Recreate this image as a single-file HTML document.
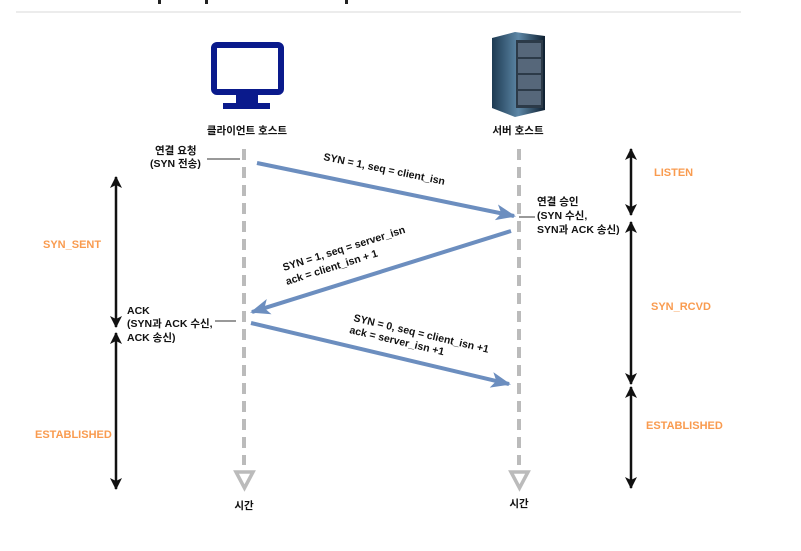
<!DOCTYPE html>
<html><head><meta charset="utf-8"><style>
body{margin:0;background:#fff;width:801px;height:546px;overflow:hidden}
svg text{font-family:"Liberation Sans","Noto Sans CJK KR",sans-serif;font-weight:bold;font-size:10.5px;fill:#111}
svg text.o{fill:#f99b4f;font-size:11px}
</style></head><body>
<svg width="801" height="546" viewBox="0 0 801 546" xmlns="http://www.w3.org/2000/svg">
<defs>
<marker id="ba" markerWidth="12" markerHeight="12" refX="11" refY="6" orient="auto-start-reverse" markerUnits="userSpaceOnUse"><path d="M0,0 L12,6 L0,12 L3,6 z" fill="#111"/></marker>
<marker id="bl" markerWidth="22" markerHeight="16" refX="18" refY="8" orient="auto" markerUnits="userSpaceOnUse"><path d="M0,0 L20,8 L0,16 L5,8 z" fill="#6c8ebf"/></marker>
<linearGradient id="sg" x1="0" x2="1"><stop offset="0" stop-color="#1d3a52"/><stop offset="0.5" stop-color="#5d87a6"/><stop offset="1" stop-color="#0e1f30"/></linearGradient>
</defs>
<g fill="#222"><rect x="158" y="0" width="3" height="4"/><rect x="205" y="0" width="3" height="4"/><rect x="345" y="0" width="3" height="4"/></g>
<line x1="16" y1="12" x2="741" y2="12" stroke="#e6e6e6" stroke-width="1.5"/>
<rect x="214" y="45" width="67" height="47" rx="3" fill="none" stroke="#0a1a8c" stroke-width="6"/>
<path d="M236,95 L258,95 L258,103 L270,103 L270,109 L223,109 L223,103 L236,103 z" fill="#0a1a8c"/>
<path d="M492,38 L515,32 L545,36 L545,110 L515,117 L492,108 z" fill="url(#sg)"/>
<rect x="516" y="40" width="27" height="68" fill="#2c3a48"/>
<g fill="#56677a"><rect x="518" y="43" width="23" height="14"/><rect x="518" y="59" width="23" height="14"/><rect x="518" y="75" width="23" height="14"/><rect x="518" y="91" width="23" height="14"/></g>
<text x="247" y="134" text-anchor="middle">클라이언트 호스트</text>
<text x="518" y="134" text-anchor="middle">서버 호스트</text>
<line x1="244" y1="149" x2="244" y2="465" stroke="#bbb" stroke-width="4" stroke-dasharray="11 7"/>
<line x1="519" y1="149" x2="519" y2="465" stroke="#bbb" stroke-width="4" stroke-dasharray="11 7"/>
<path d="M236,472 L253,472 L244.5,488 z" fill="none" stroke="#bbb" stroke-width="3.5"/>
<path d="M511,472 L528,472 L519.5,488 z" fill="none" stroke="#bbb" stroke-width="3.5"/>
<text x="244" y="509" text-anchor="middle">시간</text>
<text x="519" y="507" text-anchor="middle">시간</text>
<g stroke="#111" stroke-width="2.5">
<line x1="116" y1="177" x2="116" y2="327" marker-start="url(#ba)" marker-end="url(#ba)"/>
<line x1="116" y1="333" x2="116" y2="489" marker-start="url(#ba)" marker-end="url(#ba)"/>
<line x1="631" y1="149" x2="631" y2="215" marker-start="url(#ba)" marker-end="url(#ba)"/>
<line x1="631" y1="222" x2="631" y2="384" marker-start="url(#ba)" marker-end="url(#ba)"/>
<line x1="631" y1="387" x2="631" y2="488" marker-start="url(#ba)" marker-end="url(#ba)"/>
</g>
<text class="o" x="43" y="248">SYN_SENT</text>
<text class="o" x="35" y="438">ESTABLISHED</text>
<text class="o" x="654" y="176">LISTEN</text>
<text class="o" x="651" y="310">SYN_RCVD</text>
<text class="o" x="646" y="429">ESTABLISHED</text>
<g stroke="#6c8ebf" stroke-width="4">
<line x1="257" y1="163" x2="514" y2="216" marker-end="url(#bl)"/>
<line x1="511" y1="231" x2="252" y2="312" marker-end="url(#bl)"/>
<line x1="251" y1="323" x2="509" y2="384" marker-end="url(#bl)"/>
</g>
<text transform="translate(323,160) rotate(11.6)">SYN = 1, seq = client_isn</text>
<text transform="translate(284,271) rotate(-17.5)">SYN = 1, seq = server_isn</text>
<text transform="translate(287,285) rotate(-17.5)">ack = client_isn + 1</text>
<text transform="translate(353,321) rotate(13.3)">SYN = 0, seq = client_isn +1</text>
<text transform="translate(349,333) rotate(13.3)">ack =  server_isn +1</text>
<text x="155" y="154">연결 요청</text>
<text x="150" y="167">(SYN 전송)</text>
<line x1="207" y1="159" x2="240" y2="159" stroke="#333" stroke-width="1"/>
<text x="537" y="205">연결 승인</text>
<text x="537" y="219">(SYN 수신,</text>
<text x="537" y="233">SYN과 ACK 송신)</text>
<line x1="519" y1="217" x2="535" y2="217" stroke="#333" stroke-width="1"/>
<text x="127" y="314">ACK</text>
<text x="127" y="327">(SYN과 ACK 수신,</text>
<text x="127" y="341">ACK 송신)</text>
<line x1="215" y1="321" x2="236" y2="321" stroke="#333" stroke-width="1"/>
</svg>
</body></html>
